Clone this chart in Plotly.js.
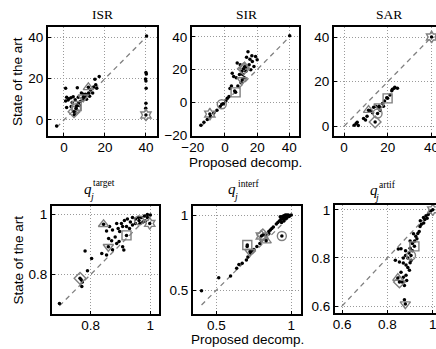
<!DOCTYPE html>
<html><head><meta charset="utf-8">
<script src="https://cdn.plot.ly/plotly-3.0.1.min.js"></script>
<style>html,body{margin:0;padding:0;overflow:hidden;background:#fff}</style>
</head><body>
<div id="chart"></div>
<script>
// ---- data ----
const panelTitles = ["ISR", "SIR", "SAR", "target", "interf", "artif"];
const specSymbols = ["diamond-open", "hexagram-open", "triangle-up-open", "triangle-down-open", "square-open", "circle-open"];

const isrDotsX = [-3.6,0.8,1.3,2.4,3.4,4.5,0.8,2,5.5,6.5,8.5,9.5,15.1,17.2,16,14,1.3,3.5,5.4,5,7,8,9,10,11,12,13,6,7.5,10.5,12.5,14.5,15.5,11,4,7,40.3,40,40.2,39.8,40,40.1,40,39.9];
const isrDotsY = [-2.9,15.4,11,10.3,10.8,11.3,9.2,9.7,9.8,15.6,13,12.5,19.7,21,15.4,13,6,6.5,3.5,2.5,8,9,9.5,11,12,13,14.5,5,7,12.5,11.5,16,17,10,8.5,11,40.7,23,22.3,19.8,18.9,15.3,8.1,5.7];
const isrSpecX = [4.9,40,11.9,9.4,6.2,5.9];
const isrSpecY = [4.0,2.4,15.8,11,6.8,5.7];

const sirDotsX = [-15,-13.1,-11,-9,-7,-5,-3,-1,0.5,1.4,2.5,3.1,4,4.5,5.4,7,9,11,13,7.6,9.5,13,16,14.3,16.7,19,20,17,15.5,13.4,18,12,10,8,6,40.2,15,10.5];
const sirDotsY = [-14,-12.2,-10.5,-8.5,-6.5,-4.8,-2.5,-0.8,0.8,2.5,3.5,8.5,10,17.8,15.8,15,17,17,19,24,23,21,20,31,28.5,28,26,25,26.4,27.6,22,15,12,10,7,40.7,23,19];
const sirSpecX = [11.5,-9.4,12.2,10.7,6.6,-2];
const sirSpecY = [20.5,-7.2,21.8,13.7,6.1,-1.2];

const sarDotsX = [4.6,5.5,6.5,6,8.9,10.5,9.8,12.2,13.5,14.5,16,17.6,18.5,19.5,21.8,22.9,24.4,22.1,23.2,21,13,16.5,18];
const sarDotsY = [0.45,1.2,0.3,1.8,3.5,4.5,2.8,6.9,8.5,9,8.5,10.2,11.3,12.8,15.9,17,17,16.6,17.5,14,6,7,9];
const sarSpecX = [14.2,40,11.2,16,19.9,15.3];
const sarSpecY = [1.9,40,7.2,9,12.5,5.7];

const tgtDotsX = [0.695,0.77,0.772,0.768,0.781,0.789,0.803,0.837,0.853,0.873,0.887,0.882,0.873,0.892,0.897,0.907,0.887,0.903,0.913,0.923,0.933,0.94,0.911,0.907,0.93,0.95,0.96,0.97,0.98,1,0.99,0.983,0.95,0.863,0.853,0.86,0.87,0.895,0.92,0.94,0.99,0.975,0.965];
const tgtDotsY = [0.703,0.76,0.775,0.782,0.878,0.812,0.853,0.87,0.865,0.882,0.903,0.925,0.948,0.953,0.943,0.96,0.97,0.97,0.98,0.985,0.975,0.965,0.881,0.892,0.953,0.985,0.99,0.99,0.995,0.998,0.99,0.978,0.97,0.96,0.945,0.92,0.912,0.91,0.96,0.99,1.0,0.975,0.97];
const tgtSpecX = [0.764,0.998,0.843,0.859,0.92,0.962];
const tgtSpecY = [0.787,0.97,0.967,0.892,0.93,0.98];

const itfDotsX = [0.4,0.515,0.594,0.635,0.65,0.672,0.7,0.71,0.73,0.75,0.77,0.79,0.8,0.83,0.85,0.86,0.87,0.88,0.85,0.9,0.92,0.926,0.94,0.95,0.96,0.97,0.98,0.99,1.0,0.93,0.945,0.955,0.965,0.975,0.985,0.95,0.935,0.96,0.97,0.91,0.705,0.74];
const itfDotsY = [0.495,0.582,0.593,0.645,0.67,0.678,0.7,0.72,0.745,0.77,0.79,0.81,0.83,0.87,0.89,0.9,0.91,0.92,0.875,0.94,0.96,0.989,0.99,0.995,1.0,1.0,1.0,0.995,1.0,0.97,0.975,0.985,0.99,0.99,0.99,0.96,0.95,0.975,0.98,0.95,0.79,0.76];
const itfSpecX = [0.81,0.8,0.832,0.724,0.706,0.937];
const itfSpecY = [0.867,0.86,0.829,0.755,0.8,0.86];

const artDotsX = [0.875,0.86,0.848,0.853,0.87,0.882,0.89,0.897,0.882,0.885,0.87,0.86,0.835,0.934,0.944,0.959,0.965,0.97,0.98,0.985,0.99,0.95,0.93,0.92,0.91,0.9,0.895,0.91,0.925,0.94,0.9,0.915,0.88,0.88,0.89,0.9,0.905,0.945,0.96,0.975,0.87,0.875,0.865];
const artDotsY = [0.626,0.838,0.837,0.783,0.779,0.771,0.76,0.749,0.728,0.706,0.72,0.74,0.79,0.902,0.931,0.968,0.96,0.975,0.98,0.99,0.995,0.94,0.88,0.87,0.86,0.84,0.82,0.83,0.89,0.91,0.87,0.9,0.83,0.81,0.8,0.78,0.79,0.955,0.945,0.965,0.8,0.685,0.7];
const artSpecX = [0.853,1.0,0.846,0.879,0.919,0.904];
const artSpecY = [0.7,1.0,0.716,0.608,0.848,0.81];

const diagEnds = [[-3.6,40],[-15,40],[0,40],[0.695,1],[0.4,1],[0.6,1]];
const xRanges = [[-7.8,45.4],[-20.5,46],[-4.6,44.3],[0.67,1.029],[0.343,1.065],[0.569,1.045]];
const yRanges = [[-7.75,45.0],[-20.6,46.1],[-4.4,44.5],[0.668,1.028],[0.34,1.06],[0.571,1.02]];
const xTicks = [[0,20,40],[-20,0,20,40],[0,20,40],[0.8,1],[0.5,1],[0.6,0.8,1]];
const yTicks = [[0,20,40],[-20,0,20,40],[0,20,40],[0.8,1],[0.5,1],[0.6,0.8,1]];

const dotsX = [isrDotsX, sirDotsX, sarDotsX, tgtDotsX, itfDotsX, artDotsX];
const dotsY = [isrDotsY, sirDotsY, sarDotsY, tgtDotsY, itfDotsY, artDotsY];
const specX = [isrSpecX, sirSpecX, sarSpecX, tgtSpecX, itfSpecX, artSpecX];
const specY = [isrSpecY, sirSpecY, sarSpecY, tgtSpecY, itfSpecY, artSpecY];

// ---- layout geometry (pixels) ----
const W = 450, H = 349;
const boxes = [[48,157,27,136],[192,299,27,136],[334,441,27,136],[52,159,206,314],[193,301,206,314],[335,443,205,313]];
const px = x => x / W;
const py = y => (H - y) / H;

const traces = [];
const layout = {
  width: W, height: H, margin: {l:0,r:0,t:0,b:0},
  paper_bgcolor: "#fff", plot_bgcolor: "#fff", showlegend: false,
  font: {family: "Liberation Sans, Arial, sans-serif", size: 13.5, color: "#000"},
  annotations: []
};
const gray = "#808080";

for (let i = 0; i < 6; i++) {
  const s = i === 0 ? "" : String(i + 1);
  const xa = "x" + s, ya = "y" + s;
  const b = boxes[i];
  const axCommon = {
    showline: true, mirror: true, linecolor: "#000", linewidth: 2,
    ticks: "inside", ticklen: 3, tickwidth: 1, tickcolor: "#000",
    showgrid: true, gridcolor: "#9a9a9a", griddash: "1px,2px", gridwidth: 1,
    zeroline: false, fixedrange: true,
    tickfont: {family: "Liberation Sans, Arial, sans-serif", size: 13.5, color: "#000"}
  };
  layout["xaxis" + s] = Object.assign({}, axCommon, {
    domain: [px(b[0]), px(b[1])], range: xRanges[i], tickvals: xTicks[i],
    ticktext: xTicks[i].map(v => v < 0 ? "\u2212" + Math.abs(v) : String(v)),
    anchor: ya, ticklabelstandoff: -2
  });
  layout["yaxis" + s] = Object.assign({}, axCommon, {
    domain: [py(b[3]), py(b[2])], range: yRanges[i], tickvals: yTicks[i],
    ticktext: yTicks[i].map(v => v < 0 ? "\u2212" + Math.abs(v) : String(v)),
    anchor: xa
  });
  traces.push({x: diagEnds[i], y: diagEnds[i], xaxis: xa, yaxis: ya, mode: "lines",
    line: {color: gray, width: 1.3, dash: "5px,4px"}, hoverinfo: "skip"});
  traces.push({x: dotsX[i], y: dotsY[i], xaxis: xa, yaxis: ya, mode: "markers",
    marker: {color: "#000", size: 3.5}});
  traces.push({x: specX[i], y: specY[i], xaxis: xa, yaxis: ya, mode: "markers",
    marker: {symbol: specSymbols, color: gray, size: 9, line: {color: gray, width: 1.4}}});
  traces.push({x: specX[i], y: specY[i], xaxis: xa, yaxis: ya, mode: "markers",
    marker: {color: "#000", size: 3.5}});
}

const serif = "Liberation Serif, Times New Roman, serif";
function ann(x, y, text, size, family, extra) {
  layout.annotations.push(Object.assign({xref: "paper", yref: "paper", x: px(x), y: py(y),
    text: text, showarrow: false, xanchor: "center", yanchor: "middle",
    font: {family: family, size: size, color: "#000"}}, extra || {}));
}
ann(102, 14, panelTitles[0], 13.5, serif);
ann(246.5, 14, panelTitles[1], 13.5, serif);
ann(389, 14, panelTitles[2], 13.5, serif);
const qPos = [[88,189,91,183,91,196],[231.5,189,236,184,235,196],[373.5,190,377,185,376,197]];
for (let k = 0; k < 3; k++) {
  const q = qPos[k];
  ann(q[0], q[1], "<i>q</i>", 15, serif);
  ann(q[2], q[3], panelTitles[3 + k], 9.5, serif, {xanchor: "left"});
  ann(q[4], q[5], "<i>j</i>", 10, serif);
}
const sans = "Liberation Sans, Arial, sans-serif";
ann(17.5, 81.5, "State of the art", 13.5, sans, {textangle: -90});
ann(17.5, 260, "State of the art", 13.5, sans, {textangle: -90});
ann(245.5, 163, "Proposed decomp.", 13.5, sans);
ann(247, 339.5, "Proposed decomp.", 13.5, sans);

Plotly.newPlot("chart", traces, layout, {staticPlot: true, displayModeBar: false});
</script>
</body></html>
